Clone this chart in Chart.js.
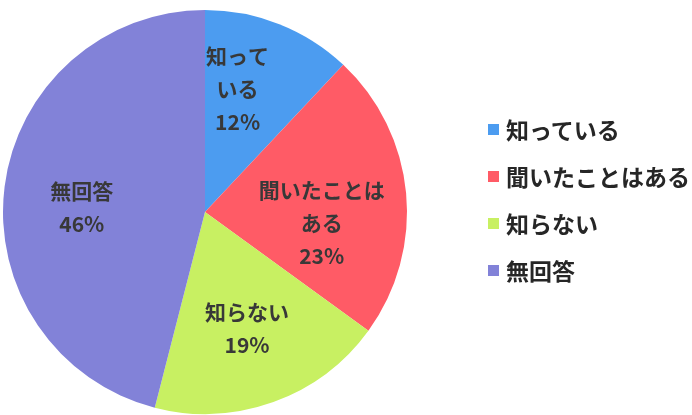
<!DOCTYPE html>
<html>
<head>
<meta charset="utf-8">
<script src="https://cdn.jsdelivr.net/npm/chart.js@4"></script>
<style>
  body { margin: 0; background: #fff; }
  #wrap { position: relative; width: 692px; height: 415px; }
  #legend { position: absolute; left: 488px; top: 112px; font-family: "Noto Sans CJK JP"; font-weight: bold; font-size: 23px; color: #262626; }
  #legend div { height: 47px; line-height: 35px; display: flex; align-items: flex-start; white-space: nowrap; }
  #legend span.box { display: inline-block; width: 11px; height: 11px; margin: 12px 7px 0 0; flex: none; }
</style>
</head>
<body>
<div id="wrap">
  <canvas id="pie" width="692" height="415"></canvas>
  <div id="legend"></div>
</div>
<script>
const categories = ["知っている", "聞いたことはある", "知らない", "無回答"];
const values = [12, 23, 19, 46];
const sliceLabels = [["知って", "いる"], ["聞いたことは", "ある"], ["知らない"], ["無回答"]];
const colors = ["#4c9cf0", "#ff5b66", "#c8f062", "#8282d8"];

// small shifts so labels sit where Excel put them
const labelNudge = [[-12, -10], [-4, 22], [1, 2], [-3, 11]];

const sliceText = {
  id: "sliceText",
  afterDatasetsDraw(chart) {
    const ctx = chart.ctx;
    const arcs = chart.getDatasetMeta(0).data;
    ctx.save();
    ctx.font = "bold 21px 'Noto Sans CJK JP'";
    ctx.fillStyle = "#383838";
    ctx.textAlign = "center";
    ctx.textBaseline = "middle";
    arcs.forEach((arc, i) => {
      const p = arc.getProps(["x", "y", "startAngle", "endAngle", "outerRadius"], true);
      const mid = (p.startAngle + p.endAngle) / 2;
      const r = p.outerRadius * 0.6;
      const x = p.x + Math.cos(mid) * r + labelNudge[i][0];
      const y = p.y + Math.sin(mid) * r + labelNudge[i][1];
      const lines = sliceLabels[i].concat([values[i] + "%"]);
      const lh = 33;
      lines.forEach((t, k) => {
        ctx.fillText(t, x, y + (k - (lines.length - 1) / 2) * lh);
      });
    });
    ctx.restore();
  },
};

new Chart(document.getElementById("pie"), {
  type: "pie",
  data: {
    labels: categories,
    datasets: [{ data: values, backgroundColor: colors, borderWidth: 0 }],
  },
  options: {
    responsive: false,
    animation: false,
    layout: { padding: { left: 1, right: 283, top: 10, bottom: 1 } },
    plugins: { legend: { display: false }, tooltip: { enabled: false } },
  },
  plugins: [sliceText],
});

let legendHtml = "";
categories.forEach((c, i) => {
  legendHtml += `<div><span class="box" style="background:${colors[i]}"></span>${c}</div>`;
});
document.getElementById("legend").innerHTML = legendHtml;
</script>
</body>
</html>
